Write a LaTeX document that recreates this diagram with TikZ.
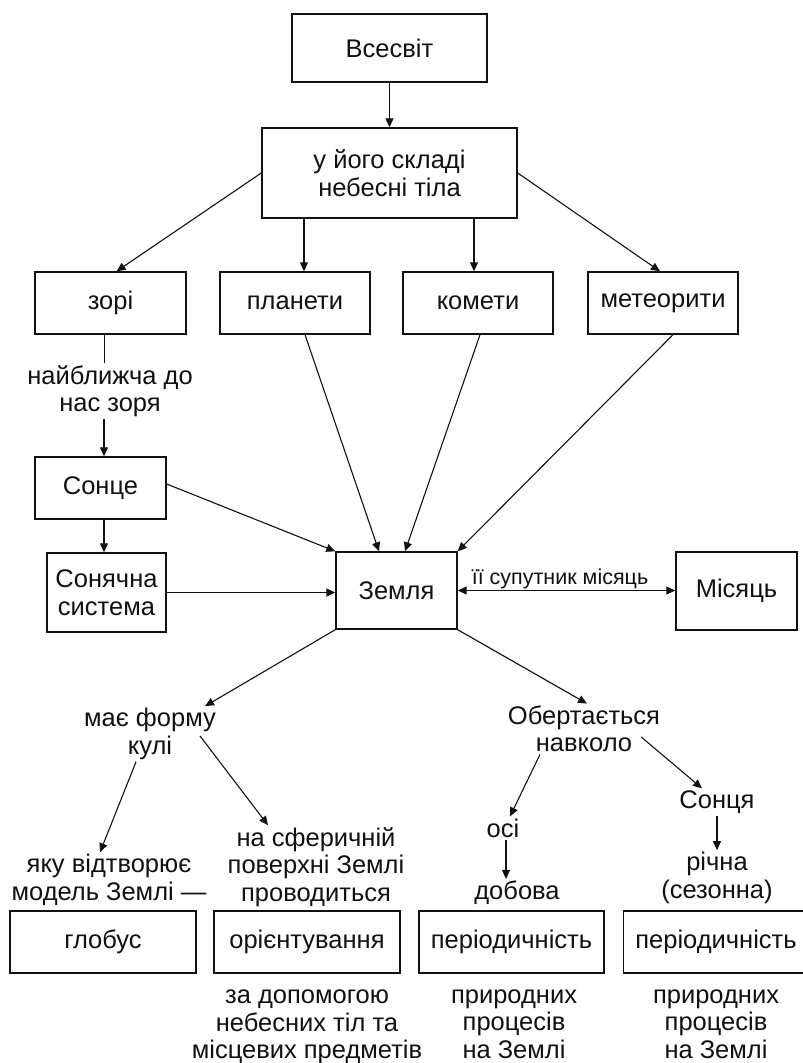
\documentclass[tikz,border=0pt]{standalone}
\usepackage{fontspec}
\setmainfont{Liberation Sans}
\usepackage{tikz}
\usetikzlibrary{arrows.meta}
\definecolor{inkcolor}{HTML}{111111}
\tikzstyle{conceptbox} = [
    draw=inkcolor,
    line width=1.4pt,
    rectangle,
    text=inkcolor,
    font=\fontsize{25.5}{28.5}\selectfont,
    align=center,
    inner sep=2pt
    ]
\tikzstyle{notetext} = [
    text=inkcolor,
    font=\fontsize{25.5}{27.5}\selectfont,
    align=center,
    inner sep=2pt
    ]
\tikzstyle{linktext} = [
    text=inkcolor,
    font=\fontsize{21.5}{24}\selectfont,
    inner sep=1pt
    ]
\tikzstyle{link} = [
    draw=inkcolor,
    line width=1.1pt,
    -{Triangle[length=9pt,width=8pt]}
    ]
\tikzstyle{twolink} = [
    draw=inkcolor,
    line width=1.1pt,
    {Triangle[length=9pt,width=8pt]}-{Triangle[length=9pt,width=8pt]}
    ]

\begin{document}
\begin{tikzpicture}[x=1pt, y=-1pt]
\useasboundingbox (0,0) rectangle (803,1063);
\clip (0,0) rectangle (803,1063);

% top levels
\node[conceptbox, minimum width=195pt, minimum height=68pt] (vsesvit) at (389.5,48) {Всесвіт};
\node[conceptbox, minimum width=255pt, minimum height=90pt] (sklad) at (389.5,173) {у його складі\\небесні тіла};

\node[conceptbox, minimum width=151pt, minimum height=62pt] (zori) at (110.5,303) {зорі};
\node[conceptbox, minimum width=150pt, minimum height=62pt] (planety) at (295,303) {планети};
\node[conceptbox, minimum width=150pt, minimum height=62pt] (komety) at (478,303) {комети};
\node[conceptbox, minimum width=150pt, minimum height=62pt] (meteority) at (663,303) {метеорити};

\node[notetext] (najblyzcha) at (110,391) {найближча до\\нас зоря};
\node[conceptbox, minimum width=131pt, minimum height=62pt] (sonce) at (100.5,488) {Сонце};
\node[conceptbox, minimum width=119pt, minimum height=79pt] (sonsys) at (106.5,592.5) {Сонячна\\система};

\node[conceptbox, minimum width=121pt, minimum height=77pt] (zemlya) at (396.5,590.5) {Земля};
\node[conceptbox, minimum width=121pt, minimum height=78pt] (misyac) at (736.5,591) {Місяць};

% lower part
\node[notetext] (formu) at (150,734) {має форму\\кулі};
\node[notetext] (obert) at (584,729) {Обертається\\навколо};
\node[notetext] (yaku) at (109,880) {яку відтворює\\модель Землі —};
\node[notetext] (sfer) at (316,867) {на сферичній\\поверхні Землі\\проводиться};
\node[notetext] (osi) at (503,828) {осі};
\node[notetext] (dobova) at (517,893) {добова};
\node[notetext] (soncya) at (717,802) {Сонця};
\node[notetext] (richna) at (717,878) {річна\\(сезонна)};

\node[conceptbox, minimum width=186pt, minimum height=62pt] (globus) at (103,942) {глобус};
\node[conceptbox, minimum width=186pt, minimum height=62pt] (orient) at (307,942) {орієнтування};
\node[conceptbox, minimum width=185pt, minimum height=62pt] (period) at (511.5,942) {періодичність};
\node[conceptbox, minimum width=185pt, minimum height=62pt] (periodrik) at (716,942) {періодичність};

\node[notetext] (dopomoga) at (307,1027) {за допомогою\\небесних тіл та\\місцевих предметів};
\node[notetext] (procesy) at (514,1024) {природних\\процесів\\на Землі};
\node[notetext] (procesyrik) at (716,1024) {природних\\процесів\\на Землі};

% connectors
\draw[link] (vsesvit) -- (sklad);
\draw[link] (sklad.west) -- ([xshift=6pt]zori.north);
\draw[link] ([xshift=9pt]planety.north |- sklad.south) -- ([xshift=9pt]planety.north);
\draw[link] ([xshift=-4pt]komety.north |- sklad.south) -- ([xshift=-4pt]komety.north);
\draw[link] (sklad.east) -- ([xshift=-3pt]meteority.north);

\draw[draw=inkcolor, line width=1.1pt] ([xshift=-6pt]zori.south) -- ([xshift=-6pt]zori.south |- najblyzcha.north);
\draw[link] ([xshift=3.5pt]sonce.north |- najblyzcha.south) -- ([xshift=3.5pt]sonce.north);
\draw[link] ([xshift=3.5pt]sonce.south) -- ([xshift=3.5pt]sonce.south |- sonsys.north);

\draw[link] ([yshift=4pt]sonce.east) -- (zemlya.north west);
\draw[link] (sonsys.east) -- (sonsys.east -| zemlya.west);
\draw[link] ([xshift=10pt]planety.south) -- ([xshift=-17.5pt]zemlya.north);
\draw[link] ([xshift=2pt]komety.south) -- ([xshift=8.5pt]zemlya.north);
\draw[link] ([xshift=10pt]meteority.south) -- (zemlya.north east);
\draw[twolink] (zemlya.east) -- node[linktext, above, pos=0.47] (suputnyk) {її супутник місяць} (zemlya.east -| misyac.west);

\draw[link] (zemlya.south west) -- ([xshift=-13pt]formu.north east);
\draw[link] (zemlya.south east) -- ([xshift=3pt]obert.north);
\draw[link] ([xshift=-14pt]formu.south) -- ([xshift=-9pt]yaku.north);
\draw[link] ([xshift=-18pt,yshift=-2pt]formu.east) -- ([xshift=-48pt]sfer.north);
\draw[link] ([xshift=-44pt]obert.south) -- ([xshift=7pt]osi.north);
\draw[link] ([xshift=3pt]osi.south) -- ([xshift=3pt]osi.south |- dobova.north);
\draw[link] ([xshift=-21pt,yshift=-8pt]obert.east) -- ([xshift=-15pt]soncya.north);
\draw[link] (soncya.south) -- (richna.north);
\end{tikzpicture}
\end{document}
